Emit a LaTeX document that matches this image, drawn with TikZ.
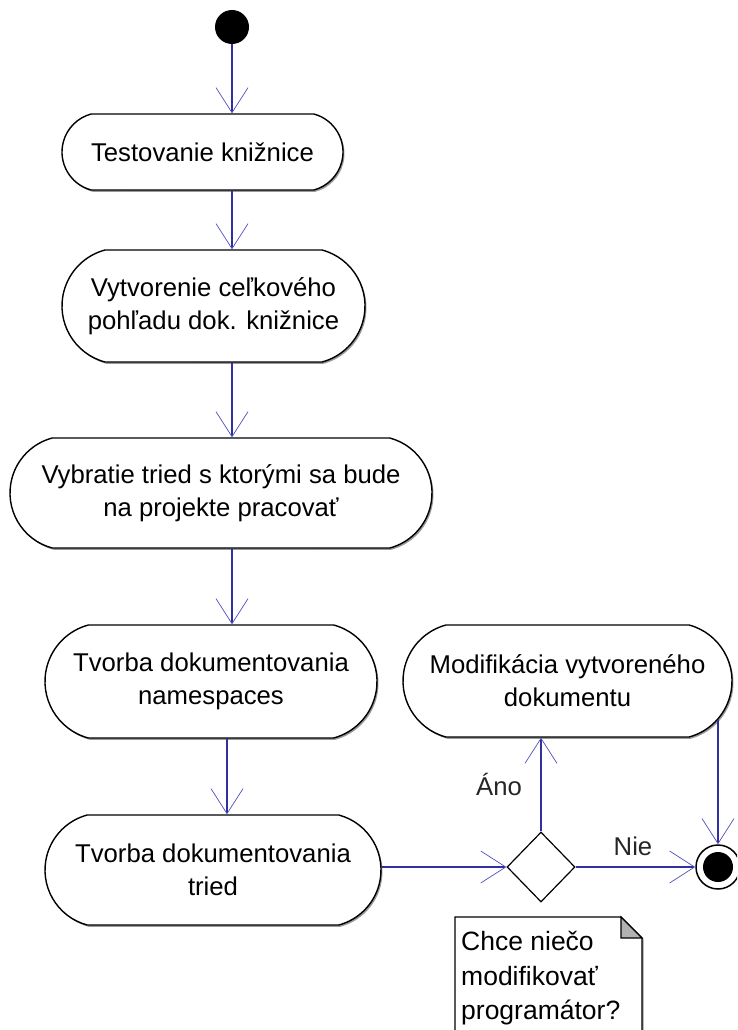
\documentclass[tikz,border=0pt]{standalone}
\usepackage{fontspec}
\setmainfont{Liberation Sans}
\usetikzlibrary{arrows.meta,shapes.geometric,shapes.misc,shadows}
\definecolor{conn}{RGB}{48,48,160}
\definecolor{tipc}{RGB}{80,80,190}
\begin{document}
\begin{tikzpicture}[x=1pt,y=-1pt,
  every node/.style={font=\fontsize{25.7}{33}\selectfont},
  act/.style={rounded rectangle, rounded rectangle arc length=150, draw=black, line width=1.4pt, fill=white, align=center, inner sep=0pt,
     drop shadow={shadow xshift=1.5pt, shadow yshift=-1.8pt, fill=black!40, opacity=1}},
  arr/.style={draw=conn, line width=1.2pt, -{Straight Barb[length=25pt,width=32pt,line width=0.7pt,color=tipc]}},
  lbl/.style={text=black!85}
]
\clip (0,0) rectangle (737,1030);
\fill[white] (0,0) rectangle (737,1030);

\node[circle, fill=black, minimum size=34pt, inner sep=0pt] (start) at (232,27) {};
\node[act, minimum width=281pt, minimum height=76pt] (a1) at (202.5,152) {Testovanie knižnice};
\node[act, minimum width=303pt, minimum height=112pt] (a2) at (213.5,306) {Vytvorenie ceľkového\\pohľadu dok. knižnice};
\node[act, minimum width=422pt, minimum height=110pt] (a3) at (221,493) {Vybratie tried s ktorými sa bude\\na projekte pracovať};
\node[act, minimum width=332pt, minimum height=113pt] (a4) at (211,681.5) {Tvorba dokumentovania\\namespaces};
\node[act, minimum width=336pt, minimum height=110pt] (a5) at (213,870) {Tvorba dokumentovania\\tried};
\node[act, minimum width=329pt, minimum height=112pt] (a6) at (567.5,681) {Modifikácia vytvoreného\\dokumentu};
\node[diamond, draw=black, line width=1.2pt, fill=white, minimum width=68pt, minimum height=70pt, inner sep=0pt] (dec) at (541,867) {};
\node[circle, draw=black, line width=1.5pt, fill=white, minimum size=44pt, inner sep=0pt] (fin) at (718,867) {};
\node[circle, fill=black, minimum size=30pt, inner sep=0pt] (finin) at (fin.center) {};

\coordinate (cy) at (227,0);
\draw[arr] (start.south) -- (a1.north -| start);
\draw[arr] (a1.south -| start) -- (a2.north -| start);
\draw[arr] (a2.south -| start) -- (a3.north -| start);
\draw[arr] (a3.south -| start) -- (a4.north -| start);
\draw[arr] (a4.south -| cy) -- (a5.north -| cy);
\draw[arr] (a5.east |- dec) -- (dec.west);
\draw[arr] (dec.north) -- (a6.south -| dec);
\draw[arr] (dec.east) -- (fin.west);
\draw[arr] ([yshift=18pt]a6.south -| fin) -- (fin.north);

\node[lbl] (yes) at (499,784) {Áno};
\node[lbl] (no) at (633,846) {Nie};

\draw[line width=1.2pt, fill=white, drop shadow={shadow xshift=1.5pt, shadow yshift=-1.5pt, fill=black!40, opacity=1}]
  (455,917) -- (621,917) -- (642,938) -- (642,1045) -- (455,1045) -- cycle;
\draw[line width=1.2pt, fill=black!30] (621,917) -- (621,938) -- (642,938) -- cycle;
\node[anchor=north west, align=left, inner sep=0pt, font=\fontsize{26.5}{34.5}\selectfont] (note) at (461,931) {Chce niečo\\modifikovať\\programátor?};
\end{tikzpicture}
\end{document}
